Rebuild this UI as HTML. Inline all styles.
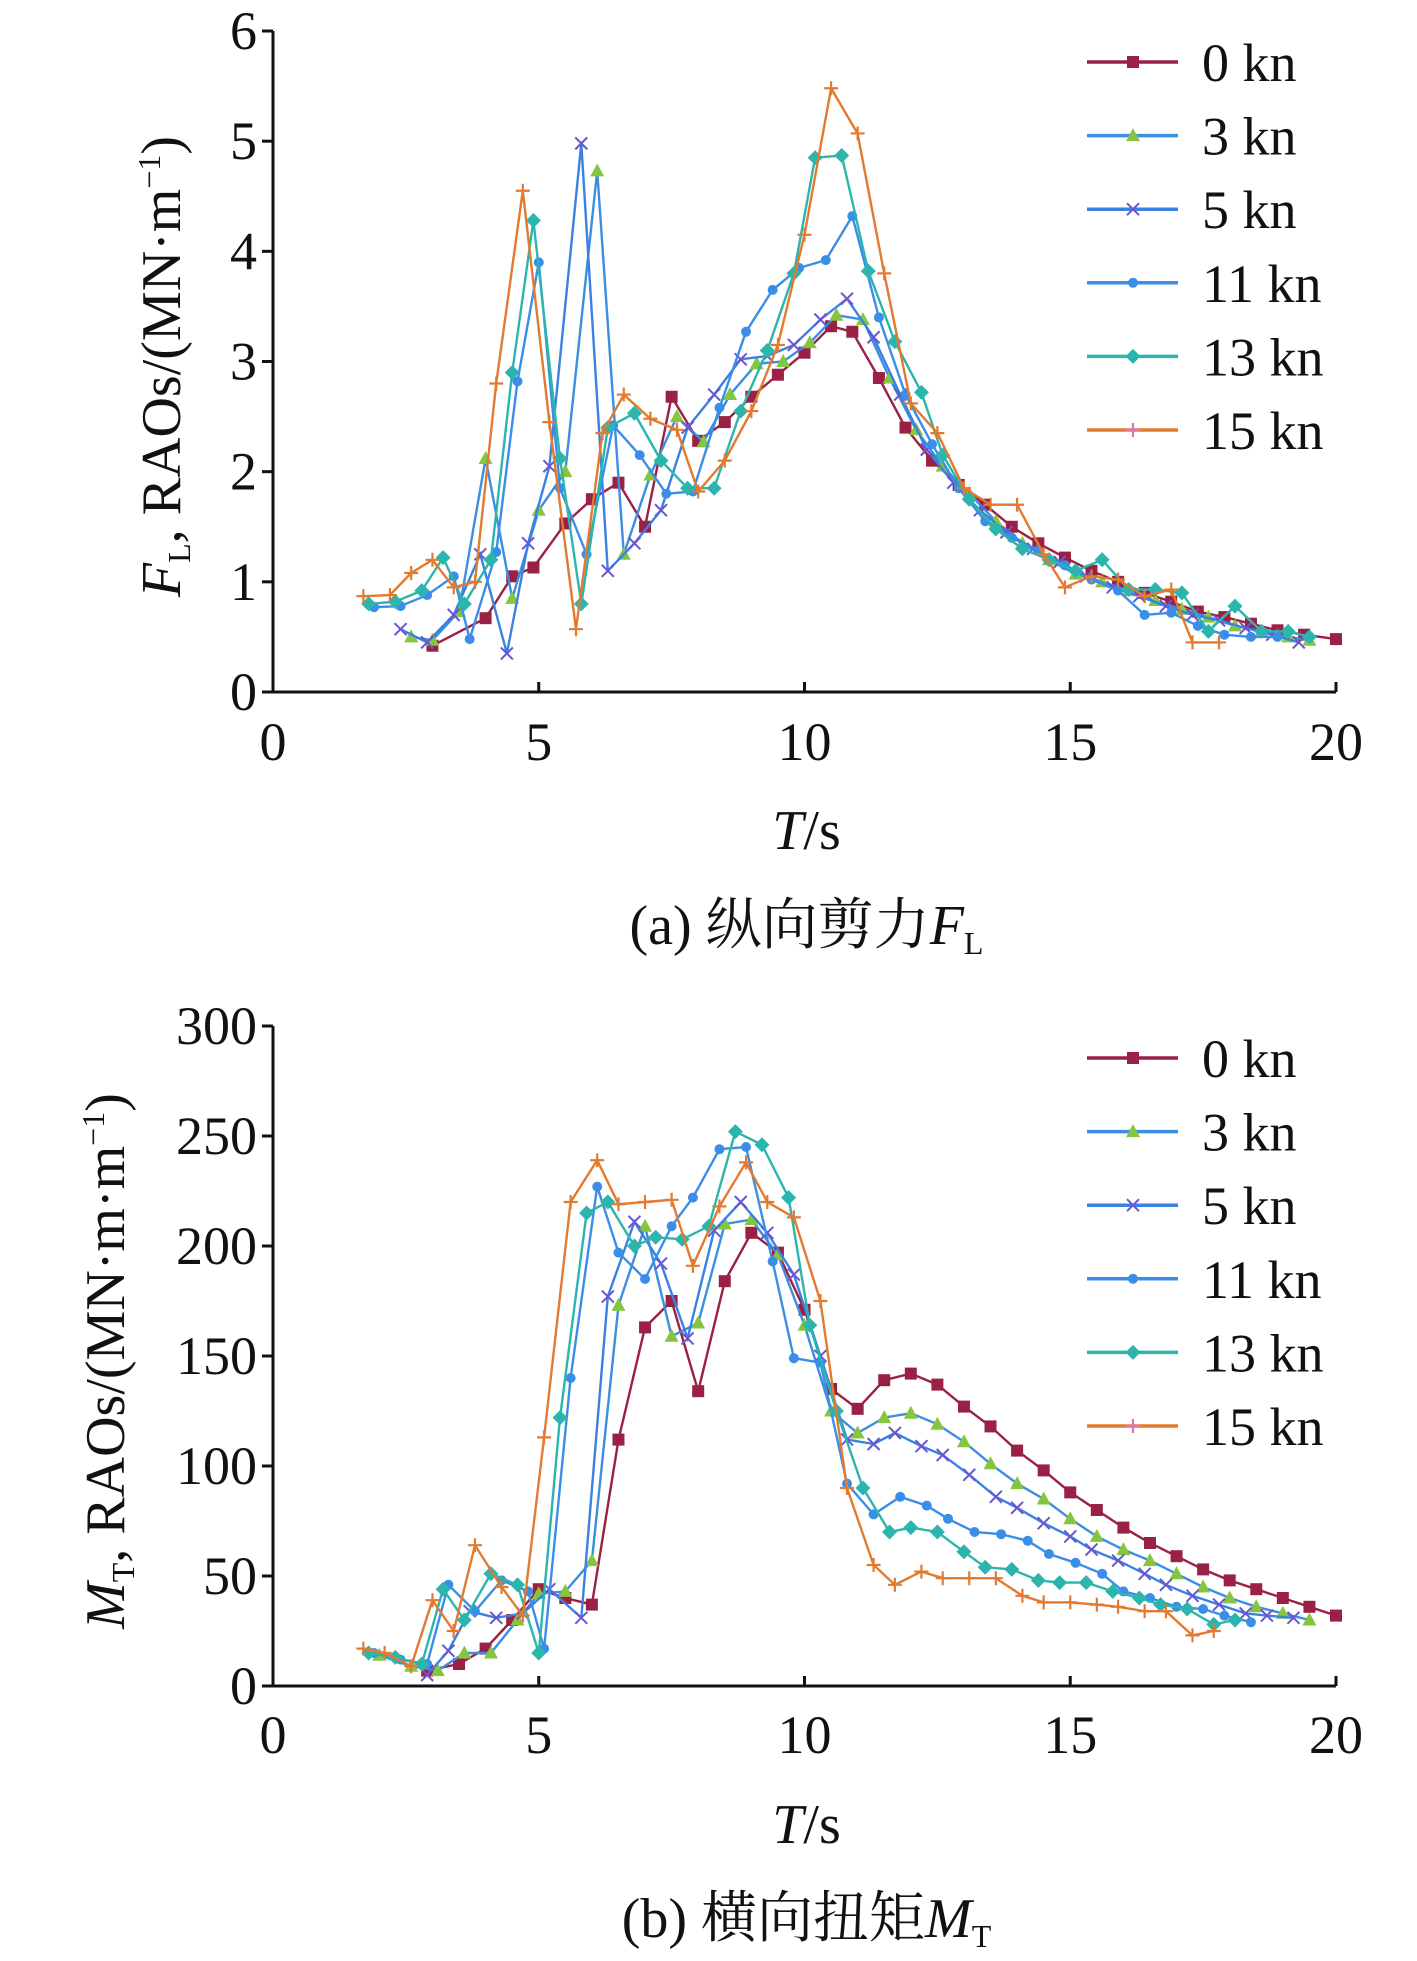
<!DOCTYPE html>
<html><head><meta charset="utf-8"><style>
body{margin:0;background:#fff}
svg{display:block}
text{font-family:"Liberation Serif","Noto Serif CJK SC",serif;fill:#111}
</style></head><body>
<svg id="svg" width="1417" height="1961" viewBox="0 0 1417 1961" xmlns="http://www.w3.org/2000/svg"></svg>
<script>
const names=["0 kn","3 kn","5 kn","11 kn","13 kn","15 kn"];
const lineColors=["#9a2143","#3b8ee0","#3b82e0","#3b8ee8","#2cb5ad","#e27a30"];
const markColors=["#9a2143","#86c540","#6a55d0","#3b8ee8","#2cb5ad","#e27a30"];
const markers=["square","triangle","x","dot","diamond","plus"];
// Chart (a): longitudinal shear F_L
const aT0=[3.0,4.0,4.5,4.9,5.5,6.0,6.5,7.0,7.5,8.0,8.5,9.0,9.5,10.0,10.5,10.9,11.4,11.9,12.4,12.9,13.4,13.9,14.4,14.9,15.4,15.9,16.4,16.9,17.4,17.9,18.4,18.9,19.4,20.0];
const aV0=[0.42,0.67,1.05,1.13,1.53,1.75,1.9,1.5,2.68,2.28,2.45,2.68,2.88,3.08,3.32,3.27,2.85,2.4,2.1,1.88,1.7,1.5,1.35,1.22,1.1,1.0,0.9,0.82,0.73,0.68,0.62,0.56,0.52,0.48];
const aT3=[2.6,3.0,3.5,4.0,4.5,5.0,5.5,6.1,6.6,7.1,7.6,8.1,8.6,9.1,9.6,10.1,10.6,11.1,11.6,12.1,12.6,13.1,13.6,14.1,14.6,15.1,15.6,16.1,16.6,17.1,17.6,18.1,18.6,19.1,19.5];
const aV3=[0.5,0.47,0.73,2.12,0.85,1.65,2.0,4.73,1.25,1.97,2.5,2.27,2.7,2.98,3.0,3.17,3.42,3.38,2.85,2.38,2.05,1.8,1.55,1.35,1.2,1.07,1.0,0.92,0.83,0.75,0.68,0.6,0.55,0.5,0.47];
const aT5=[2.4,2.9,3.4,3.9,4.4,4.8,5.2,5.8,6.3,6.8,7.3,7.8,8.3,8.8,9.3,9.8,10.3,10.8,11.3,11.8,12.3,12.8,13.3,13.8,14.3,14.8,15.3,15.8,16.3,16.8,17.3,17.8,18.3,18.8,19.3];
const aV5=[0.57,0.45,0.7,1.25,0.35,1.35,2.05,4.98,1.1,1.35,1.65,2.4,2.7,3.02,3.05,3.15,3.38,3.57,3.22,2.7,2.2,1.9,1.65,1.45,1.3,1.18,1.05,0.95,0.87,0.78,0.7,0.65,0.58,0.52,0.45];
const aT11=[1.9,2.4,2.9,3.4,3.7,4.2,4.6,5.0,5.4,5.9,6.4,6.9,7.4,7.9,8.4,8.9,9.4,9.9,10.4,10.9,11.4,11.9,12.4,12.9,13.4,13.9,14.4,14.9,15.4,15.9,16.4,16.9,17.4,17.9,18.4,18.9];
const aV11=[0.77,0.78,0.88,1.05,0.48,1.27,2.82,3.9,1.85,1.25,2.42,2.15,1.8,1.82,2.58,3.27,3.65,3.85,3.92,4.32,3.4,2.7,2.25,1.85,1.55,1.4,1.28,1.15,1.02,0.92,0.7,0.72,0.6,0.52,0.5,0.5];
const aT13=[1.8,2.3,2.8,3.2,3.6,4.1,4.5,4.9,5.4,5.8,6.3,6.8,7.3,7.8,8.3,8.8,9.3,9.8,10.2,10.7,11.2,11.7,12.2,12.6,13.1,13.6,14.1,14.6,15.1,15.6,16.1,16.6,17.1,17.6,18.1,18.6,19.1,19.5];
const aV13=[0.8,0.82,0.92,1.22,0.8,1.2,2.9,4.28,2.12,0.8,2.4,2.53,2.1,1.85,1.85,2.55,3.1,3.8,4.85,4.87,3.82,3.18,2.72,2.15,1.75,1.48,1.3,1.2,1.1,1.2,0.93,0.93,0.9,0.55,0.78,0.55,0.55,0.5];
const aT15=[1.7,2.2,2.6,3.0,3.4,3.8,4.2,4.7,5.2,5.7,6.2,6.6,7.1,7.6,8.0,8.5,9.0,9.5,10.0,10.5,11.0,11.5,12.0,12.5,13.0,13.5,14.0,14.5,14.9,15.4,15.9,16.4,16.9,17.3,17.8];
const aV15=[0.87,0.88,1.08,1.2,0.95,1.0,2.8,4.55,2.45,0.57,2.35,2.7,2.48,2.38,1.82,2.1,2.55,3.15,4.15,5.48,5.07,3.8,2.62,2.35,1.85,1.7,1.7,1.25,0.95,1.05,1.02,0.87,0.93,0.45,0.45];
// Chart (b): transverse torque M_T
const bT0=[2.9,3.5,4.0,4.5,5.0,5.5,6.0,6.5,7.0,7.5,8.0,8.5,9.0,9.5,10.0,10.5,11.0,11.5,12.0,12.5,13.0,13.5,14.0,14.5,15.0,15.5,16.0,16.5,17.0,17.5,18.0,18.5,19.0,19.5,20.0];
const bV0=[7,10,17,30,44,40,37,112,163,175,134,184,206,197,171,135,126,139,142,137,127,118,107,98,88,80,72,65,59,53,48,44,40,36,32];
const bT3=[2.0,2.6,3.1,3.6,4.1,4.6,5.0,5.5,6.0,6.5,7.0,7.5,8.0,8.5,9.0,9.5,10.0,10.5,11.0,11.5,12.0,12.5,13.0,13.5,14.0,14.5,15.0,15.5,16.0,16.5,17.0,17.5,18.0,18.5,19.0,19.5];
const bV3=[14,9,7,15,15,30,42,43,57,173,209,159,165,210,212,196,164,125,115,122,124,119,111,101,92,85,76,68,62,57,51,45,40,36,33,30];
const bT5=[2.9,3.3,3.7,4.2,4.7,5.2,5.8,6.3,6.8,7.3,7.8,8.3,8.8,9.3,9.8,10.3,10.8,11.3,11.7,12.2,12.6,13.1,13.6,14.0,14.5,15.0,15.4,15.9,16.4,16.8,17.3,17.8,18.3,18.7,19.2];
const bV5=[5,16,34,31,33,44,31,177,211,192,158,207,220,206,187,150,112,110,115,109,105,96,86,81,74,68,62,57,51,46,41,37,33,32,31];
const bT11=[1.9,2.4,2.9,3.3,3.8,4.3,4.8,5.1,5.6,6.1,6.5,7.0,7.5,7.9,8.4,8.9,9.4,9.8,10.3,10.8,11.3,11.8,12.3,12.7,13.2,13.7,14.2,14.6,15.1,15.6,16.0,16.5,17.0,17.5,17.9,18.4];
const bV11=[15,12,10,46,34,48,43,17,140,227,197,185,209,222,244,245,193,149,147,92,78,86,82,76,70,69,66,60,56,51,43,40,36,35,32,29];
const bT13=[1.8,2.3,2.8,3.2,3.6,4.1,4.6,5.0,5.4,5.9,6.3,6.8,7.2,7.7,8.2,8.7,9.2,9.7,10.1,10.6,11.1,11.6,12.0,12.5,13.0,13.4,13.9,14.4,14.8,15.3,15.8,16.3,16.7,17.2,17.7,18.1];
const bV13=[15,13,10,44,30,51,46,15,122,215,220,200,204,203,209,252,246,222,164,125,90,70,72,70,61,54,53,48,47,47,43,40,37,35,28,30];
const bT15=[1.7,2.1,2.6,3.0,3.4,3.8,4.3,4.7,5.1,5.6,6.1,6.5,7.0,7.5,7.9,8.4,8.9,9.3,9.8,10.3,10.8,11.3,11.7,12.2,12.6,13.1,13.6,14.1,14.5,15.0,15.5,15.9,16.4,16.8,17.3,17.7];
const bV15=[17,15,9,39,25,64,45,32,113,220,239,219,220,221,191,218,238,220,213,175,90,55,46,52,49,49,49,41,38,38,37,36,34,34,23,25];
const xTicks=[0,5,10,15,20];
const aYTicks=[0,1,2,3,4,5,6];
const bYTicks=[0,50,100,150,200,250,300];

const NS="http://www.w3.org/2000/svg";
const svg=document.getElementById('svg');
function el(tag,attrs,parent){const e=document.createElementNS(NS,tag);for(const k in attrs)e.setAttribute(k,attrs[k]);(parent||svg).appendChild(e);return e;}

function marker(g,type,x,y,c){
  let m;
  if(type==="square")m=el('rect',{x:x-6,y:y-6,width:12,height:12,fill:c},g);
  else if(type==="triangle")m=el('polygon',{points:`${x},${y-7.5} ${x-7},${y+5.5} ${x+7},${y+5.5}`,fill:c},g);
  else if(type==="x")m=el('path',{d:`M${x-6},${y-6}L${x+6},${y+6}M${x-6},${y+6}L${x+6},${y-6}`,stroke:c,'stroke-width':2,fill:'none'},g);
  else if(type==="dot")m=el('circle',{cx:x,cy:y,r:5,fill:c},g);
  else if(type==="diamond")m=el('polygon',{points:`${x},${y-7.5} ${x+7.5},${y} ${x},${y+7.5} ${x-7.5},${y}`,fill:c},g);
  else m=el('path',{d:`M${x-7},${y}L${x+7},${y}M${x},${y-7}L${x},${y+7}`,stroke:c,'stroke-width':2.2,fill:'none'},g);
  
  
}

function chart(cfg){
  const {x0,x1,y0,y1,ymax,yTicks,series,prefix,ylabel,yLabelX,caption,legY,tickY,tTitleY,capY}=cfg;
  const g=el('g',{});
  
  
  const sx=v=>x0+(x1-x0)*v/20;
  const sy=v=>y0-(y0-y1)*v/ymax;
  series.forEach((s,i)=>{
    const sg=el('g',{},g);
    
    
    const pts=s[0].map((t,j)=>sx(t).toFixed(1)+','+sy(s[1][j]).toFixed(1)).join(' ');
    const pl=el('polyline',{points:pts,fill:'none',stroke:lineColors[i],'stroke-width':2.4},sg);
    
    
    s[0].forEach((t,j)=>marker(sg,markers[i],sx(t),sy(s[1][j]),markColors[i]));
  });
  const ax=el('path',{d:`M${x0},${y1}L${x0},${y0}L${x1},${y0}`,stroke:'#111','stroke-width':3,fill:'none'},g);
  
  
  xTicks.forEach(v=>{
    el('line',{x1:sx(v),x2:sx(v),y1:y0,y2:y0-10,stroke:'#111','stroke-width':3},g);
    const t=el('text',{x:sx(v),y:tickY,'text-anchor':'middle','font-size':54},g);
    t.textContent=v;
    
    
  });
  yTicks.forEach(v=>{
    el('line',{x1:x0,x2:x0-11,y1:sy(v),y2:sy(v),stroke:'#111','stroke-width':3},g);
    const t=el('text',{x:x0-16,y:sy(v)+18,'text-anchor':'end','font-size':54},g);
    t.textContent=v;
    
    
  });
  const xt=el('text',{x:(x0+x1)/2+2,y:tTitleY,'text-anchor':'middle','font-size':56},g);
  xt.innerHTML='<tspan font-style="italic">T</tspan>/s';
  
  
  const yt=el('text',{transform:`translate(${yLabelX},${(y0+y1)/2+5}) rotate(-90)`,'text-anchor':'middle','font-size':56},g);
  yt.innerHTML=ylabel;
  
  
  const cp=el('text',{x:(x0+x1)/2+2,y:capY,'text-anchor':'middle','font-size':56},g);
  cp.innerHTML=caption;
  
  
  const lg=el('g',{},g);
  
  
  names.forEach((n,i)=>{
    const y=legY+i*73.6;
    const eg=el('g',{},lg);
    
    
    el('line',{x1:1087,x2:1178,y1:y,y2:y,stroke:lineColors[i],'stroke-width':3.5},eg);
    marker(eg,i===5?'plus-pink':markers[i],1133,y,i===5?'#d67bb8':markColors[i]);
    const t=el('text',{x:1202,y:y+19,'font-size':54},eg);
    t.textContent=n;
  });
}
chart({x0:273,x1:1336,y0:692,y1:31,ymax:6,yTicks:aYTicks,prefix:'shear',
  series:[[aT0,aV0],[aT3,aV3],[aT5,aV5],[aT11,aV11],[aT13,aV13],[aT15,aV15]],
  ylabel:'<tspan font-style="italic">F</tspan><tspan font-size="32" dy="10">L</tspan><tspan dy="-10">, RAOs/(MN·m</tspan><tspan font-size="32" dy="-20">−1</tspan><tspan dy="20">)</tspan>',
  yLabelX:180,caption:'(a) 纵向剪力<tspan font-style="italic">F</tspan><tspan font-size="32" dy="10">L</tspan>',
  legY:62,tickY:760,tTitleY:849,capY:944});
chart({x0:273,x1:1336,y0:1686,y1:1026,ymax:300,yTicks:bYTicks,prefix:'torque',
  series:[[bT0,bV0],[bT3,bV3],[bT5,bV5],[bT11,bV11],[bT13,bV13],[bT15,bV15]],
  ylabel:'<tspan font-style="italic">M</tspan><tspan font-size="32" dy="10">T</tspan><tspan dy="-10">, RAOs/(MN·m·m</tspan><tspan font-size="32" dy="-20">−1</tspan><tspan dy="20">)</tspan>',
  yLabelX:124,caption:'(b) 横向扭矩<tspan font-style="italic">M</tspan><tspan font-size="32" dy="10">T</tspan>',
  legY:1058,tickY:1753,tTitleY:1843,capY:1937});
</script>
</body></html>
